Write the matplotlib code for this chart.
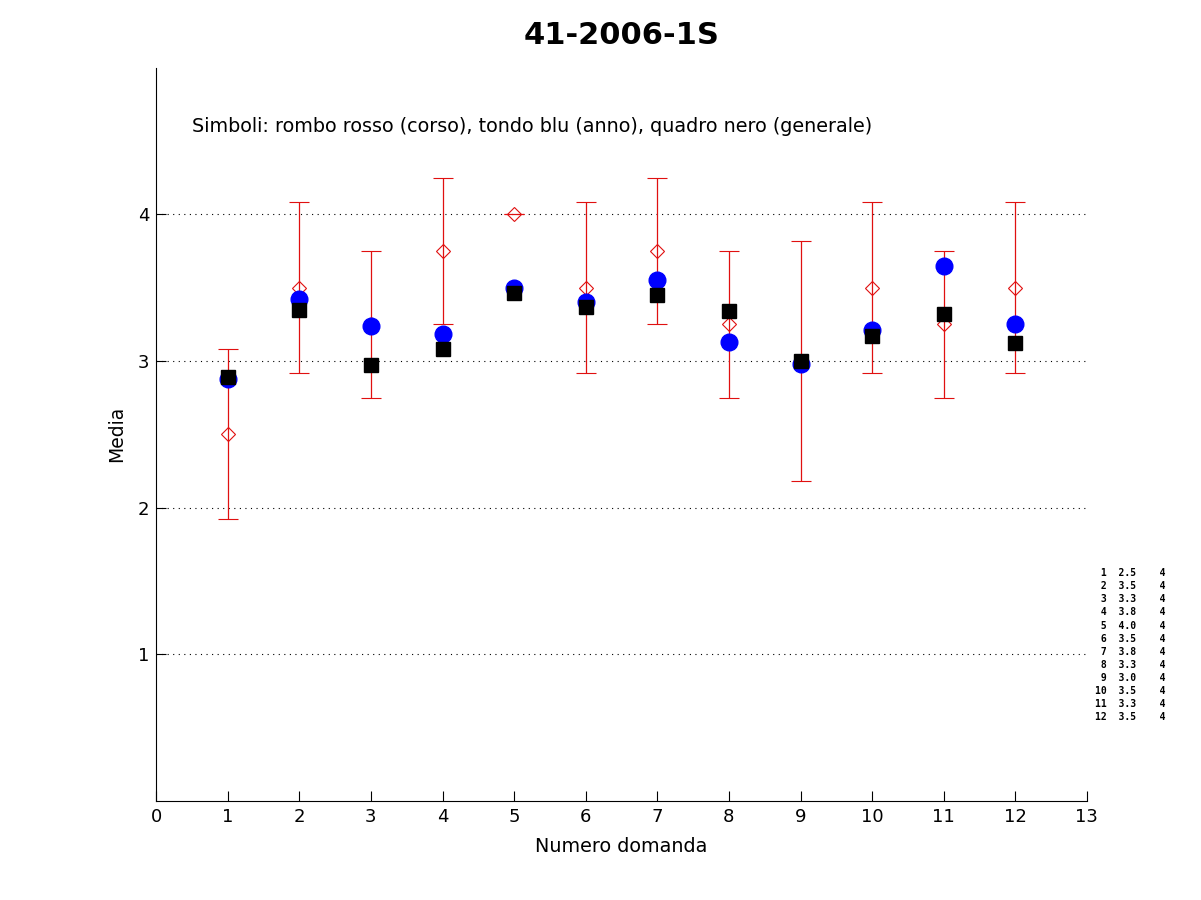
import matplotlib
matplotlib.use('Agg')
import matplotlib.pyplot as plt
import numpy as np

# dati
domande = list(range(1, 13))
corso = [2.5, 3.5, 3.25, 3.75, 4.0, 3.5, 3.75, 3.25, 3.0, 3.5, 3.25, 3.5]
corso_err = [0.58, 0.58, 0.5, 0.5, 0.0, 0.58, 0.5, 0.5, 0.82, 0.58, 0.5, 0.58]
anno = [2.88, 3.42, 3.24, 3.18, 3.50, 3.40, 3.55, 3.13, 2.98, 3.21, 3.65, 3.25]
generale = [2.89, 3.35, 2.97, 3.08, 3.46, 3.37, 3.45, 3.34, 3.00, 3.17, 3.32, 3.12]
tab_media = ["2.5", "3.5", "3.3", "3.8", "4.0", "3.5", "3.8", "3.3", "3.0", "3.5", "3.3", "3.5"]
tab_n = [4] * 12

titolo = "41-2006-1S"
nota = "Simboli: rombo rosso (corso), tondo blu (anno), quadro nero (generale)"

fig = plt.figure(figsize=(12.01, 9), dpi=100)
ax = fig.add_axes([0.13, 0.11, 0.775, 0.815])

rosso = '#e01010'
ax.errorbar(domande, corso, yerr=corso_err, fmt='D', color=rosso, ecolor=rosso,
            mfc='none', mec=rosso, ms=7, mew=0.8, elinewidth=0.9, capsize=7,
            capthick=0.9, zorder=3)
ax.plot(domande, anno, 'o', color='#0000ff', ms=12, mec='#0000ff', zorder=4)
ax.plot(domande, generale, 's', color='black', ms=10.5, zorder=5)

ax.set_xlim(0, 13)
ax.set_ylim(0, 5)
ax.set_xticks(range(0, 14))
ax.set_yticks([1, 2, 3, 4])
for y in [1, 2, 3, 4]:
    ax.axhline(y, color='black', ls=(0, (1, 4)), lw=0.8, zorder=1)

ax.spines['top'].set_visible(False)
ax.spines['right'].set_visible(False)
ax.tick_params(direction='in', length=7, width=0.8, labelsize=13, pad=5)

ax.set_title(titolo, fontsize=22, fontweight='bold', pad=17)
ax.set_xlabel("Numero domanda", fontsize=13.8, labelpad=8)
ax.set_ylabel("Media", fontsize=13.5, labelpad=8)
ax.text(0.5, 4.6, nota, fontsize=13.8, ha='left', va='center')

# tabella a destra
righe = [f"{i:2d} {m:>4s} {n:4d}" for i, m, n in zip(domande, tab_media, tab_n)]
fig.text(0.912, 0.198, "\n".join(righe), family='DejaVu Sans Mono', fontweight='bold',
         fontsize=7, ha='left', va='bottom', linespacing=1.38)

fig.savefig('out.png', dpi=100)
